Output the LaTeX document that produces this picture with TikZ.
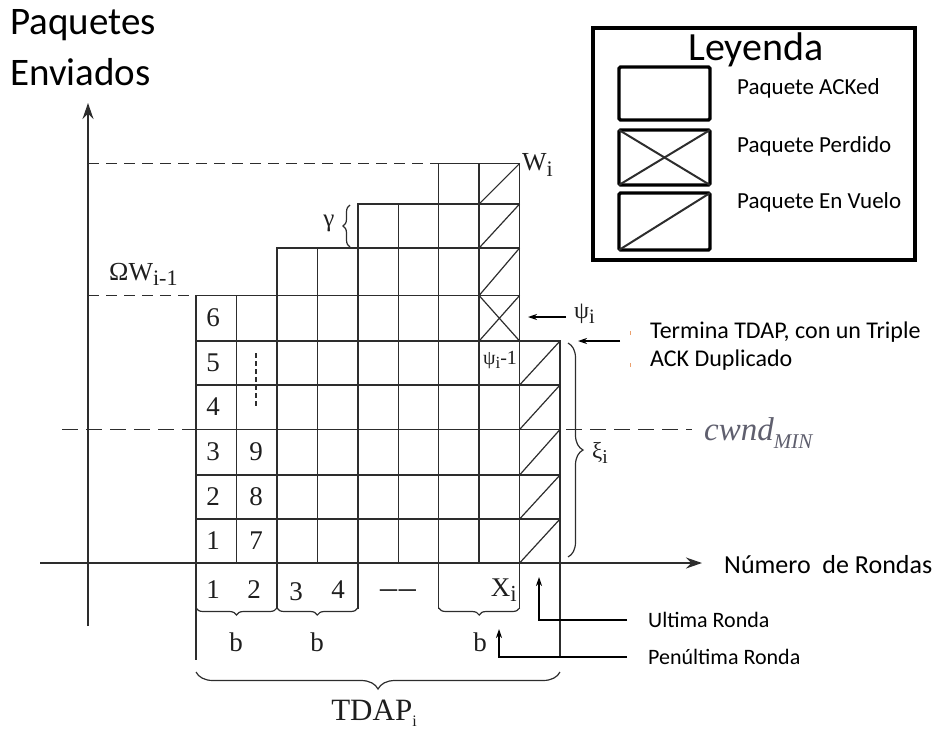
\documentclass[tikz,border=0pt]{standalone}
\usepackage{fontspec}
\setmainfont{Liberation Serif}
\newfontfamily\calib{Carlito}
\usetikzlibrary{arrows.meta,decorations.pathreplacing}
\definecolor{linec}{RGB}{45,45,45}
\definecolor{txtc}{RGB}{30,30,30}
\definecolor{cwndc}{RGB}{95,95,110}
\definecolor{tickc}{RGB}{235,160,110}
\newcommand\lo[1]{\raisebox{-0.45ex}{\scalebox{0.85}{#1}}}
\begin{document}
\begin{tikzpicture}[x=1pt,y=-1pt,
  grid/.style={draw=linec,line width=1.4pt},
  diag/.style={draw=linec,line width=1.2pt},
  axis/.style={draw=linec,line width=1.5pt},
  arr/.style={draw=black,line width=1.3pt,-{Stealth[length=9pt,width=6pt]}},
  dsh/.style={draw=linec,line width=1.4pt,dash pattern=on 11pt off 7pt},
  num/.style={inner sep=0pt,text=txtc,font=\fontsize{27}{27}\selectfont},
  mlab/.style={inner sep=0pt,text=txtc,font=\fontsize{26}{26}\selectfont},
  sans/.style={inner sep=0pt,text=black,font=\calib\fontsize{23}{28}\selectfont},
  legbox/.style={draw=black,line width=3.4pt,rounded corners=1.5pt},
  brc/.style={draw=linec,line width=1.2pt,decorate},
]
\useasboundingbox (0,0) rectangle (942,731);

% axis titles
\node[inner sep=0pt,anchor=west,font=\calib\fontsize{39}{39}\selectfont] (ytitle1) at (10,25) {Paquetes};
\node[inner sep=0pt,anchor=west,font=\calib\fontsize{39}{39}\selectfont] (ytitle2) at (10,72) {Enviados};

% dashed reference lines
\draw[dsh] (88,163.5) -- (439,163.5);
\draw[dsh] (88,295.5) -- (196,295.5);
\draw[linec,line width=1.4pt,dash pattern=on 16pt off 8pt] (62,429.5) -- (692,429.5);

% axes
\coordinate (yb) at (88,626);
\coordinate (yt) at (88,103);
\coordinate (xl) at (40,563);
\coordinate (xr) at (702,563);
\draw[axis,-{Stealth[length=16pt,width=11pt]}] (yb) -- (yt);
\draw[axis,-{Stealth[length=16pt,width=11pt]}] (xl) -- (xr);

% grid
\def\Yarr{{563,519,475,429.5,385,341,295.5,248,204,163.5}}
\foreach \xl/\xr/\h in {196/236.4/6, 236.4/276.9/6, 276.9/317.3/7, 317.3/357.8/7,
                        357.8/398.2/8, 398.2/438.7/8, 438.7/479.1/9, 479.1/519.6/9, 519.6/560/5}{
  \foreach \r in {1,...,\h}{
    \pgfmathsetmacro\yb{\Yarr[\r-1]}
    \pgfmathsetmacro\yt{\Yarr[\r]}
    \draw[grid] (\xl,\yb) rectangle (\xr,\yt);
  }
}
% in-flight packets (slash) in column 8, rows 7-9
\foreach \r in {7,8,9}{
  \pgfmathsetmacro\yb{\Yarr[\r-1]}
  \pgfmathsetmacro\yt{\Yarr[\r]}
  \draw[diag] (479.1,\yb) -- (519.6,\yt);
}
% lost packet (cross) column 8 row 6
\draw[diag] (479.1,341) -- (519.6,295.5);
\draw[diag] (479.1,295.5) -- (519.6,341);
% in-flight column 9 rows 1-5
\foreach \r in {1,...,5}{
  \pgfmathsetmacro\yb{\Yarr[\r-1]}
  \pgfmathsetmacro\yt{\Yarr[\r]}
  \draw[diag] (519.6,\yb) -- (560,\yt);
}

% numbers in cells
\foreach \n/\y in {1/541,2/497,3/452,4/407,5/363,6/318}{
  \node[num] (c1n\n) at (213,\y) {\n};
}
\foreach \n/\y in {7/541,8/497,9/452}{
  \node[num] (c2n\n) at (256,\y) {\n};
}
\draw[linec,line width=1.2pt,dash pattern=on 5pt off 3pt] (256,353) -- (256,408);

% labels near the grid
\node[mlab,anchor=west] (wi) at (522,165) {W\lo{i}};
\node[mlab,font=\fontsize{26}{26}\selectfont,anchor=south west] (omw) at (109,286) {ΩW\lo{i-1}};
\node[mlab,font=\fontsize{25}{25}\selectfont] (gam) at (329,223) {γ};
\draw[brc,decoration={brace,amplitude=7pt,mirror}] (350,205) -- (350,247);
\node[mlab,font=\fontsize{20}{20}\selectfont] (psim) at (500,360) {ψ\lo{i}-1};

% psi_i arrow
\node[mlab,font=\fontsize{24}{24}\selectfont,anchor=west,inner sep=0pt] (psi) at (574,314) {ψ\lo{i}};
\coordinate (psiA) at (566,317);
\coordinate (psiB) at (528,317);
\draw[arr] (psiA) -- (psiB);

% Termina TDAP
\node[sans,anchor=west,align=left,font=\calib\fontsize{24}{28}\selectfont] (term) at (650,346) {Termina TDAP, con un Triple\\ACK Duplicado};
\coordinate (termA) at (620,341);
\coordinate (termB) at (578,341);
\draw[arr] (termA) -- (termB);
\draw[tickc,line width=1pt] (630,331) -- (630,335);
\draw[tickc,line width=1pt] (630,363) -- (630,367);

% xi brace
\draw[brc,decoration={brace,amplitude=15pt}] (568,343) -- (568,557);
\node[mlab,font=\fontsize{23}{23}\selectfont,anchor=west] (xi) at (592,453) {ξ\lo{i}};

% cwnd_MIN
\node[inner sep=0pt,anchor=west,text=cwndc,font=\fontsize{33}{33}\selectfont] (cwnd) at (704,433) {\textit{cwnd}\raisebox{-0.5ex}{\fontsize{21}{21}\selectfont\textit{MIN}}};

% x-axis title
\node[inner sep=0pt,anchor=west,font=\calib\fontsize{26}{26}\selectfont] (xtitle) at (724,565) {Número\ \ de Rondas};

% below axis: round numbers
\node[num] (r1) at (213,590) {1};
\node[num] (r2) at (254,590) {2};
\node[num] (r3) at (296,592) {3};
\node[num] (r4) at (338,590) {4};
\node[num,font=\fontsize{34}{34}\selectfont] (rdots) at (398,594) {–\kern2pt–};
\node[num,anchor=east] (rx) at (517,590) {X\lo{i}};

% vertical bracket lines
\draw[grid] (196,563) -- (196,660);
\draw[grid] (560,563) -- (560,658);
\foreach \x in {276.9,357.8,438.7,519.6}{
  \draw[grid] (\x,563) -- (\x,609);
}
\draw[brc,decoration={brace,amplitude=7pt,mirror}] (196,608) -- (276.9,608);
\draw[brc,decoration={brace,amplitude=7pt,mirror}] (276.9,608) -- (357.8,608);
\draw[brc,decoration={brace,amplitude=7pt,mirror}] (438.7,608) -- (519.6,608);
\node[num] (b1) at (236,642) {b};
\node[num] (b2) at (317,642) {b};
\node[num] (b3) at (480,642) {b};

% TDAP brace
\draw[brc,decoration={brace,amplitude=17pt,mirror}] (196,672) -- (560,672);
\node[inner sep=0pt,text=txtc,font=\fontsize{31}{31}\selectfont] (tdap) at (374,713) {TDAP\raisebox{-0.4ex}{\fontsize{16}{16}\selectfont i}};

% Ultima / Penultima arrows
\node[sans,anchor=west,font=\calib\fontsize{22}{22}\selectfont,inner xsep=21pt] (ult) at (627,620) {Ultima Ronda};
\coordinate (ultTip) at (539,577);
\draw[arr] (ult.west) -| (ultTip);
\node[sans,anchor=west,font=\calib\fontsize{22}{22}\selectfont,inner xsep=21pt] (pen) at (627,657) {Penúltima Ronda};
\coordinate (penTip) at (499,629);
\draw[arr] (pen.west) -| (penTip);

% legend
\draw[draw=black,line width=3.2pt] (593,28) rectangle (915,260);
\node[inner sep=0pt,font=\calib\fontsize{40}{40}\selectfont] (leg) at (756,50) {Leyenda};
\draw[legbox] (619,67) rectangle (710,120);
\draw[legbox] (619,130) rectangle (710,185);
\draw[diag,line width=2pt] (619,130) -- (710,185);
\draw[diag,line width=2pt] (619,185) -- (710,130);
\draw[legbox] (619,193) rectangle (710,250);
\draw[diag,line width=2pt] (619,250) -- (710,193);
\node[sans,anchor=west] (l1) at (737,88) {Paquete ACKed};
\node[sans,anchor=west] (l2) at (737,146) {Paquete Perdido};
\node[sans,anchor=west] (l3) at (737,202) {Paquete En Vuelo};
\end{tikzpicture}
\end{document}
